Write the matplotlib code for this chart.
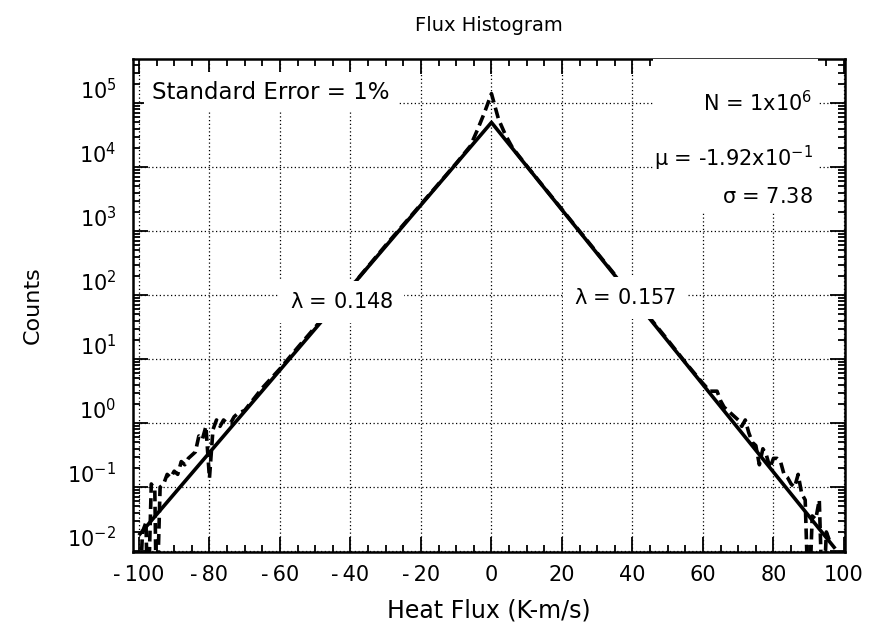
import numpy as np
import matplotlib.pyplot as plt
from matplotlib.patches import Rectangle
from matplotlib.ticker import MultipleLocator, LogLocator, NullFormatter

plt.rcParams["font.family"] = ["DejaVu Sans"]
plt.rcParams["mathtext.default"] = "regular"
plt.rcParams["axes.unicode_minus"] = False

# Fitted exponential tails (straight lines on the log axis)
fit_x = [-99.7, 0.0, 97.2]
fit_y = [0.0186, 5.0e4, 0.0115]

# Histogram (log10 of counts); very small values = empty bins
ZERO = -3.0
hist_x = [-100, -99, -98, -97.5, -96.5, -95.5, -95, -94, -93, -92, -91, -90,
          -89, -88, -87, -86, -85, -84, -83, -82, -81, -80, -79, -78, -77,
          -76, -75, -74, -73, -72, -70, -65, -60, -55, -50, -45, -40, -30,
          -20, -10, -6, -4, -2, -1, 0, 1, 2, 4, 6, 10, 20, 30, 40, 50, 55,
          60, 62, 64, 65, 66, 68, 70, 71, 72, 73, 74, 75, 76, 77, 78, 79,
          80, 81, 82, 83, 84, 85, 86, 87, 88, 89, 90, 91, 92, 93, 94, 95, 96]
hist_log = [ZERO, -1.70, -1.55, ZERO, -0.95, -1.05, ZERO, -1.00, -0.95, -0.80,
            -0.85, -0.75, -0.80, -0.60, -0.65, -0.55, -0.50, -0.45, -0.20,
            -0.25, -0.05, -0.86, -0.10, 0.05, -0.05, 0.05, 0.00, 0.00, 0.10,
            0.15, 0.20, 0.55, 0.85, 1.18, 1.50, 1.82, 2.12, 2.78, 3.42, 4.06,
            4.33, 4.58, 4.85, 5.00, 5.15, 4.95, 4.75, 4.50, 4.30, 4.02, 3.34,
            2.66, 1.98, 1.30, 0.95, 0.62, 0.50, 0.50, 0.35, 0.25, 0.15, 0.05,
            -0.05, 0.05, -0.15, -0.30, -0.35, -0.65, -0.40, -0.50, -0.70,
            -0.55, -0.55, -0.60, -0.80, -0.85, -0.95, -1.00, -0.80, -1.10,
            -1.20, ZERO, -1.45, -1.50, -1.20, ZERO, -1.70, -1.85]

x_ticks = [-100, -80, -60, -40, -20, 0, 20, 40, 60, 80, 100]
x_labels = ["-\u2009100", "-\u200980", "-\u200960", "-\u200940", "-\u200920",
            "0", "20", "40", "60", "80", "100"]
y_exps = [-2, -1, 0, 1, 2, 3, 4, 5]

fig = plt.figure(figsize=(8.69, 6.28), dpi=100)
ax = fig.add_axes([0.153, 0.121, 0.819, 0.785])

ax.semilogy(hist_x, 10.0 ** np.array(hist_log), color="black", lw=2.6,
            dashes=(3, 1.5), zorder=2)
ax.semilogy(fit_x, fit_y, color="black", lw=2.6, zorder=2)

ax.set_xlim(-101.7, 100.2)
ax.set_ylim(0.0097, 10 ** 5.69)

ax.set_xticks(x_ticks)
ax.set_xticklabels(x_labels)
ax.xaxis.set_minor_locator(MultipleLocator(5))
ax.set_yticks([10.0 ** e for e in y_exps])
ax.set_yticklabels([f"$10^{{{e}}}$" for e in y_exps])
ax.yaxis.set_minor_locator(LogLocator(base=10, subs=np.arange(2, 10), numticks=20))
ax.yaxis.set_minor_formatter(NullFormatter())

ax.tick_params(which="both", direction="in", top=True, right=True,
               labelsize=15, width=1.3)
ax.tick_params(which="major", length=11)
ax.tick_params(which="minor", length=5)
ax.tick_params(axis="x", pad=9)
ax.tick_params(axis="y", pad=12)
for lab in ax.get_yticklabels():
    lab.set_va("bottom")

ax.set_axisbelow(True)
ax.grid(True, which="major", color="black", linestyle=(0, (1, 2)), lw=0.9)
for s in ax.spines.values():
    s.set_linewidth(1.8)

ax.set_title("Flux Histogram", fontsize=14, pad=20)
ax.set_xlabel("Heat Flux (K-m/s)", fontsize=17, labelpad=10)
ax.set_ylabel("Counts", fontsize=16, labelpad=18)

# Annotations
ax.text(0.027, 0.933, "Standard Error = 1%", transform=ax.transAxes,
        ha="left", va="center", fontsize=16.5, zorder=4,
        bbox=dict(facecolor="white", edgecolor="none", pad=6))

ax.add_patch(Rectangle((0.73, 0.688), 0.232, 0.312, transform=ax.transAxes,
                       facecolor="white", edgecolor="none", zorder=3))
ax.text(0.955, 0.911, r"N = 1x10$^6$", transform=ax.transAxes,
        ha="right", va="center", fontsize=15, zorder=4)
ax.text(0.955, 0.799, r"$\mu$ = -1.92x10$^{-1}$", transform=ax.transAxes,
        ha="right", va="center", fontsize=15, zorder=4)
ax.text(0.955, 0.720, r"$\sigma$ = 7.38", transform=ax.transAxes,
        ha="right", va="center", fontsize=15, zorder=4)

ax.text(-42.5, 10 ** 1.9, r"$\lambda$ = 0.148", ha="center", va="center",
        fontsize=15, zorder=4,
        bbox=dict(facecolor="white", edgecolor="none", pad=8))
ax.text(37.7, 10 ** 1.95, r"$\lambda$ = 0.157", ha="center", va="center",
        fontsize=15, zorder=4,
        bbox=dict(facecolor="white", edgecolor="none", pad=8))

plt.savefig("out.png", dpi=100)
plt.close()
